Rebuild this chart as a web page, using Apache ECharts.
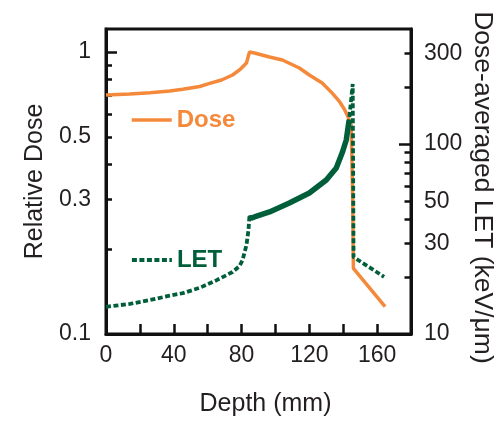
<!DOCTYPE html>
<html><head><meta charset="utf-8">
<script src="https://cdn.jsdelivr.net/npm/echarts@6/dist/echarts.min.js"></script>
<style>html,body{margin:0;padding:0;background:#fff}#c{width:500px;height:421px}</style>
</head><body><div id="c"></div>
<script>
// Axis tick / label values
const depthLabels = [0, 40, 80, 120, 160];
const depthTicks = [20, 40, 60, 80, 100, 120, 140, 160];
const doseLabels = [0.1, 0.3, 0.5, 1];
const doseTicks = [0.2, 0.3, 0.4, 0.5, 0.6, 0.7, 0.8, 0.9];
const doseMajorTicks = [1];
const letLabels = [10, 30, 50, 100, 300];
const letTicks = [20, 30, 40, 50, 60, 70, 80, 90, 200, 300];
const letMajorTicks = [100];

// Relative dose (left axis)
const doseDepth = [0, 14.1, 25.9, 37.6, 45.3, 55.3, 61.2, 68.2, 74.7, 79.4, 82.9, 84.7, 87.6, 96.5, 104.1, 114.1, 120, 127.6, 133.5, 137.6, 140.6, 142.9, 144.7, 145.6, 146.0, 164.7];
const doseValue = [0.704, 0.710, 0.717, 0.727, 0.738, 0.755, 0.774, 0.796, 0.829, 0.870, 0.914, 1.0, 0.992, 0.960, 0.937, 0.878, 0.829, 0.776, 0.715, 0.670, 0.628, 0.588, 0.551, 0.30, 0.171, 0.125];

// Dose-averaged LET (right axis)
const letDepth = [0, 14.1, 25.9, 37.6, 45.3, 55.3, 65.3, 74.7, 78.8, 80.6, 82.9, 84.1, 84.7, 85.3, 87.6, 96.5, 108.2, 120, 130, 135.9, 139.4, 141.8, 143.5, 145.6, 146.1, 164.1];
const letValue = [13.9, 14.4, 15.1, 15.9, 16.4, 17.5, 19.2, 21.2, 22.8, 24.5, 29.4, 35.3, 42.5, 40.5, 41.3, 43.9, 48.9, 55.2, 64.6, 74.8, 89.8, 105, 134, 207, 25.4, 20.0];

const ORANGE = '#F5893B';
const GREEN = '#005F3A';
const TXT = '#231F20';
const FONT = 'Liberation Sans';

const doseData = doseDepth.map((d, i) => [d, doseValue[i]]);
const letData = letDepth.map((d, i) => [d, letValue[i]]);
const letCore = letData.filter(p => p[0] >= 85.3 && p[0] <= 143.5);

const chart = echarts.init(document.getElementById('c'), null, {renderer: 'canvas'});
const lbl = {fontFamily: FONT, fontSize: 23, color: TXT};

chart.setOption({
  animation: false,
  backgroundColor: '#fff',
  grid: {left: 106, right: 89, top: 29, bottom: 87, outerBoundsMode: 'none', containLabel: false,
         show: true, borderColor: '#111', borderWidth: 3, backgroundColor: 'transparent'},
  legend: [
    {data: [{name: 'Dose', textStyle: {color: ORANGE}}], left: 130, top: 108, padding: 0, itemWidth: 40, itemHeight: 14,
     itemStyle: {opacity: 0}, lineStyle: {width: 3.5},
     textStyle: {fontFamily: FONT, fontSize: 24, fontWeight: 'bold'}, selectedMode: false},
    {data: [{name: 'LET', textStyle: {color: GREEN}}], left: 130, top: 248, padding: 0, itemWidth: 40, itemHeight: 14,
     itemStyle: {opacity: 0}, lineStyle: {width: 3.8},
     textStyle: {fontFamily: FONT, fontSize: 24, fontWeight: 'bold'}, selectedMode: false}
  ],
  xAxis: {
    type: 'value', min: 0, max: 180,
    name: 'Depth (mm)', nameLocation: 'middle', nameGap: 58, nameMoveOverlap: false,
    nameTextStyle: {fontFamily: FONT, fontSize: 25, color: TXT, padding: [0, 0, 0, 14]},
    axisLine: {lineStyle: {color: '#111', width: 3}},
    axisTick: {inside: true, length: 10, lineStyle: {color: '#111', width: 2.5}, customValues: depthTicks},
    axisLabel: Object.assign({margin: 10, customValues: depthLabels}, lbl),
    splitLine: {show: false}
  },
  yAxis: [
    {
      type: 'log', logBase: 10, min: 0.1, max: 1.207, position: 'left',
      name: 'Relative Dose', nameLocation: 'middle', nameGap: 58, nameRotate: 90, nameMoveOverlap: false,
      nameTextStyle: {fontFamily: FONT, fontSize: 25, color: TXT},
      axisLine: {show: true, lineStyle: {color: '#111', width: 3}},
      axisTick: {inside: true, length: 6, lineStyle: {color: '#111', width: 2.5}, customValues: doseTicks},
      axisLabel: Object.assign({margin: 15, customValues: doseLabels}, lbl),
      splitLine: {show: false}, minorTick: {show: false}
    },
    {
      type: 'log', logBase: 10, min: 0.1, max: 1.207, position: 'left',
      axisLine: {show: false},
      axisTick: {inside: true, length: 11, lineStyle: {color: '#111', width: 2.5}, customValues: doseMajorTicks},
      axisLabel: {show: false}, splitLine: {show: false}
    },
    {
      type: 'log', logBase: 10, min: 10, max: 402.8, position: 'right',
      name: 'Dose-averaged LET (keV/\u03bcm)', nameLocation: 'middle', nameGap: 58, nameRotate: -90, nameMoveOverlap: false,
      nameTextStyle: {fontFamily: FONT, fontSize: 26.5, color: TXT, padding: [0, 0, 0, 12]},
      axisLine: {show: true, lineStyle: {color: '#111', width: 3}},
      axisTick: {inside: true, length: 6.5, lineStyle: {color: '#111', width: 2.5}, customValues: letTicks},
      axisLabel: Object.assign({margin: 13, customValues: letLabels}, lbl),
      splitLine: {show: false}
    },
    {
      type: 'log', logBase: 10, min: 10, max: 402.8, position: 'right',
      axisLine: {show: false},
      axisTick: {inside: true, length: 12, lineStyle: {color: '#111', width: 2.5}, customValues: letMajorTicks},
      axisLabel: {show: false}, splitLine: {show: false}
    }
  ],
  series: [
    {name: 'Dose', type: 'line', yAxisIndex: 0, data: doseData, symbol: 'none',
     lineStyle: {color: ORANGE, width: 3.5}, itemStyle: {color: ORANGE}},
    {name: 'LET', type: 'line', yAxisIndex: 2, data: letData, symbol: 'none',
     lineStyle: {color: GREEN, width: 3.8, type: [5, 2.5]}, itemStyle: {color: GREEN}},
    {name: 'LET core', type: 'line', yAxisIndex: 2, data: letCore, symbol: 'none',
     lineStyle: {color: GREEN, width: 5.5}, itemStyle: {color: GREEN}}
  ]
});
</script></body></html>
